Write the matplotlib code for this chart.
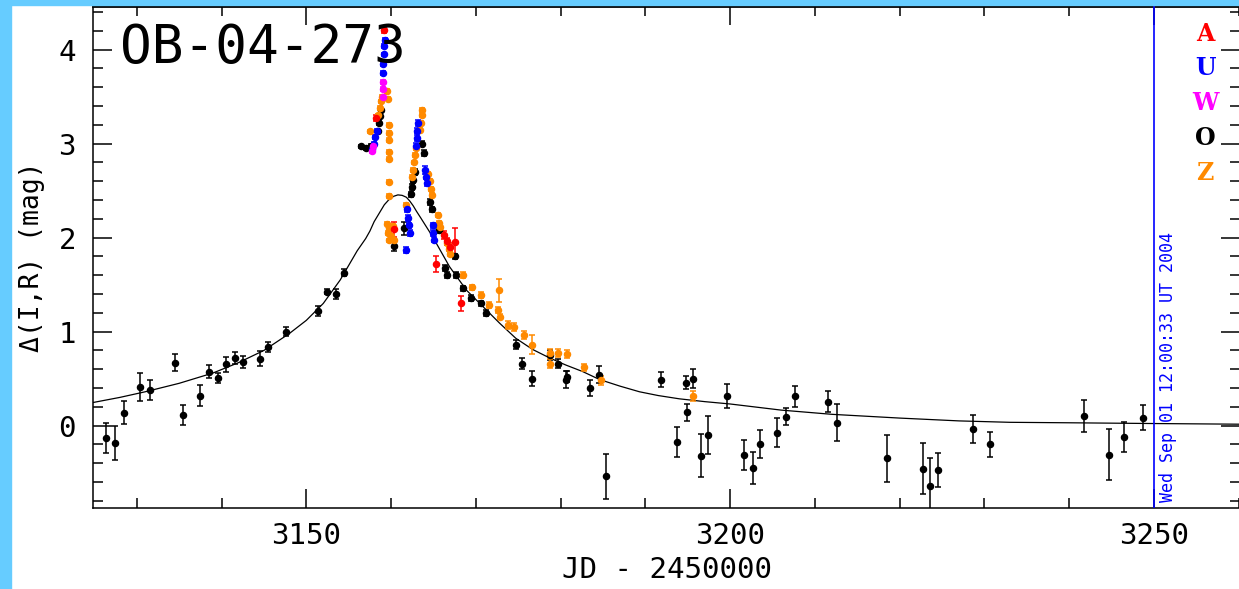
import matplotlib
matplotlib.use("Agg")
import matplotlib.pyplot as plt
from matplotlib.patches import Rectangle
from matplotlib.ticker import MultipleLocator

plt.rcParams['font.family'] = ['DejaVu Sans Mono', 'DejaVu Sans']

# model curve
model_t = [3124.8, 3128, 3131, 3135, 3139, 3142, 3145, 3148, 3150, 3152, 3154, 3156,
           3157, 3157.5, 3158, 3158.6, 3159.2, 3159.8, 3160.3, 3160.8, 3161.3, 3161.8,
           3162.2, 3162.6, 3163.0, 3163.5, 3164.2, 3164.9, 3165.9, 3166.9,
           3168.9, 3170.8, 3172.8, 3174.7, 3176.7, 3178.7, 3180.6, 3182.6, 3184.6,
           3187, 3189.3, 3191.5, 3194, 3197, 3200, 3206, 3212, 3220, 3227, 3233, 3240,
           3250, 3260]
model_mag = [0.245, 0.30, 0.36, 0.45, 0.56, 0.67, 0.80, 0.98, 1.12, 1.30, 1.55, 1.86,
             1.99, 2.07, 2.17, 2.26, 2.35, 2.41, 2.44, 2.455, 2.45, 2.43,
             2.39, 2.34, 2.28, 2.21, 2.11, 2.01, 1.85, 1.69,
             1.44, 1.27, 1.09, 0.93, 0.81, 0.72, 0.645, 0.575, 0.49,
             0.42, 0.36, 0.32, 0.285, 0.255, 0.23, 0.165, 0.12, 0.08, 0.05, 0.035, 0.03,
             0.022, 0.015]

# O (black)
o_t = [3126.4, 3127.4, 3128.5, 3130.4, 3131.6, 3134.5, 3135.5, 3137.5, 3138.5, 3139.6,
       3140.5, 3141.6, 3142.5, 3144.5, 3145.5, 3147.6, 3151.4, 3152.4, 3153.5, 3154.5,
       3156.4, 3157.0, 3157.6, 3158.5, 3158.6, 3158.7, 3158.8,
       3160.4, 3161.5, 3162.4, 3162.5, 3162.6, 3162.8, 3163.7, 3163.9, 3164.6, 3164.8,
       3165.7, 3166.4, 3166.6, 3167.5, 3167.6, 3168.5, 3169.4, 3170.6, 3171.2,
       3174.75, 3175.5, 3176.6, 3178.7, 3179.65, 3180.6, 3180.8, 3183.5, 3184.5,
       3185.35, 3191.8, 3193.7, 3194.8, 3194.85, 3195.6, 3196.5, 3197.4, 3199.6,
       3201.6, 3202.7, 3203.5, 3205.5, 3206.6, 3207.6, 3211.5, 3212.6, 3218.5,
       3222.7, 3223.6, 3224.5, 3228.6, 3230.6, 3241.7, 3244.7, 3246.5, 3248.7]
o_mag = [-0.134, -0.187, 0.138, 0.415, 0.38, 0.67, 0.114, 0.32, 0.574, 0.51,
         0.653, 0.72, 0.677, 0.713, 0.834, 1.0, 1.223, 1.426, 1.40, 1.628,
         2.97, 2.95, 2.975, 3.13, 3.22, 3.29, 3.36,
         1.91, 2.1, 2.46, 2.54, 2.61, 2.70, 3.0, 2.9, 2.38, 2.30,
         2.08, 1.68, 1.60, 1.80, 1.60, 1.46, 1.355, 1.30, 1.195,
         0.86, 0.66, 0.50, 0.75, 0.66, 0.49, 0.52, 0.40, 0.54,
         -0.54, 0.486, -0.177, 0.457, 0.14, 0.497, -0.32, -0.10, 0.316,
         -0.31, -0.45, -0.2, -0.074, 0.096, 0.31, 0.255, 0.032, -0.35,
         -0.46, -0.64, -0.47, -0.035, -0.2, 0.103, -0.31, -0.117, 0.085]
o_err = [0.16, 0.18, 0.125, 0.15, 0.11, 0.09, 0.11, 0.11, 0.07, 0.055,
         0.08, 0.065, 0.065, 0.08, 0.055, 0.045, 0.055, 0.03, 0.055, 0.035,
         0.02, 0.02, 0.02, 0.02, 0.02, 0.02, 0.02,
         0.05, 0.07, 0.03, 0.03, 0.03, 0.03, 0.03, 0.03, 0.03, 0.03,
         0.03, 0.03, 0.03, 0.03, 0.03, 0.03, 0.03, 0.03, 0.03,
         0.05, 0.06, 0.08, 0.05, 0.05, 0.09, 0.06, 0.09, 0.09,
         0.24, 0.08, 0.16, 0.07, 0.09, 0.1, 0.23, 0.2, 0.125,
         0.16, 0.17, 0.15, 0.15, 0.09, 0.115, 0.115, 0.195, 0.25,
         0.27, 0.3, 0.18, 0.15, 0.13, 0.17, 0.27, 0.16, 0.135]

# A (red)
a_t = [3158.25, 3159.2, 3160.4, 3166.3, 3166.6, 3166.9, 3167.5, 3165.3, 3168.3]
a_mag = [3.27, 4.21, 2.09, 2.03, 1.96, 1.90, 1.95, 1.72, 1.30]
a_err = [0.03, 0.03, 0.08, 0.04, 0.04, 0.04, 0.15, 0.09, 0.08]

# U (blue)
u_t = [3157.8, 3158.0, 3158.15, 3158.3, 3159.05, 3159.1, 3159.15, 3159.2, 3159.25,
       3161.8, 3161.9, 3162.0, 3162.1, 3162.2,
       3162.9, 3163.0, 3163.1, 3163.2, 3164.0, 3164.1, 3164.2,
       3164.9, 3165.0, 3165.1]
u_mag = [2.94, 3.0, 3.07, 3.14, 3.75, 3.85, 3.95, 4.04, 4.10,
         1.87, 2.30, 2.21, 2.13, 2.05,
         2.98, 3.06, 3.14, 3.22, 2.72, 2.65, 2.58,
         2.13, 2.05, 1.98]
u_err = [0.02, 0.02, 0.02, 0.02, 0.02, 0.02, 0.02, 0.02, 0.02,
         0.035, 0.03, 0.03, 0.03, 0.03,
         0.03, 0.03, 0.03, 0.03, 0.04, 0.03, 0.03,
         0.03, 0.03, 0.03]

# W (magenta)
w_t = [3157.75, 3157.85, 3159.0, 3159.05, 3159.1]
w_mag = [2.92, 2.97, 3.50, 3.58, 3.66]
w_err = [0.02, 0.02, 0.02, 0.02, 0.02]

# Z (orange)
z_t = [3157.5, 3158.5, 3158.65, 3158.8, 3158.9, 3159.5, 3159.6,
       3159.7, 3159.7, 3159.7, 3159.7, 3159.7, 3159.7, 3159.7,
       3159.5, 3159.6, 3159.7, 3159.8, 3160.0, 3160.2, 3160.3, 3161.8,
       3162.5, 3162.6, 3162.7, 3162.8, 3162.9,
       3163.4, 3163.5, 3163.6, 3163.7,
       3164.4, 3164.55, 3164.7, 3164.85,
       3165.5, 3165.7, 3165.8, 3166.6, 3166.8, 3167.0,
       3168.5, 3169.6, 3170.6, 3171.6, 3172.7, 3172.6, 3172.8, 3173.75, 3174.55,
       3175.7, 3176.6, 3178.7, 3178.7, 3179.65, 3180.8, 3182.8, 3184.8, 3195.6]
z_mag = [3.13, 3.30, 3.38, 3.45, 3.50, 3.56, 3.48,
         3.20, 3.11, 3.04, 2.91, 2.84, 2.59, 2.44,
         2.15, 2.05, 1.97, 2.10, 2.02, 2.12, 1.97, 2.35,
         2.65, 2.72, 2.80, 2.88, 2.95,
         3.15, 3.22, 3.30, 3.36,
         2.68, 2.60, 2.52, 2.45,
         2.24, 2.16, 2.11, 1.94, 1.88, 1.83,
         1.60, 1.47, 1.39, 1.28, 1.44, 1.23, 1.16, 1.07, 1.05,
         0.965, 0.86, 0.77, 0.66, 0.77, 0.76, 0.62, 0.48, 0.316]
z_err = [0.02] * 41 + [0.03, 0.03, 0.03, 0.03, 0.12, 0.03, 0.03, 0.04, 0.04,
                       0.04, 0.1, 0.04, 0.05, 0.04, 0.04, 0.04, 0.05, 0.05]

series = [
    (o_t, o_mag, o_err, 'black'),
    (z_t, z_mag, z_err, '#ff8a00'),
    (a_t, a_mag, a_err, '#ff0000'),
    (u_t, u_mag, u_err, '#0000ff'),
    (w_t, w_mag, w_err, '#ff00ff'),
]
legend_labels = ['A', 'U', 'W', 'O', 'Z']
legend_colors = ['#ff0000', '#0000ff', '#ff00ff', 'black', '#ff8a00']

W, H = 1239, 589
fig = plt.figure(figsize=(W / 100, H / 100), dpi=100)
fig.patch.set_facecolor('white')

# light blue frame strips
fig.patches.append(Rectangle((0, 0), 11 / W, 1, transform=fig.transFigure,
                             color='#66ccff', zorder=0))
fig.patches.append(Rectangle((0, 1 - 5 / H), 1, 5 / H, transform=fig.transFigure,
                             color='#66ccff', zorder=0))

left, right, bottom, top = 92.7, 1240.5, 508.3, 6.0
ax = fig.add_axes([left / W, (H - bottom) / H, (right - left) / W, (bottom - top) / H])

ax.plot(model_t, model_mag, color='black', lw=0.9, zorder=3)
for t, m, e, c in series:
    ax.errorbar(t, m, yerr=e, fmt='o', ms=4.4, color=c, ecolor=c,
                elinewidth=1.1, capsize=2.2, capthick=1.1, zorder=4)

ax.axvline(3250, color='#0000ff', lw=1.2, zorder=5)

ax.set_xlim(3124.8, 3260.2)
ax.set_ylim(-0.88, 4.465)
ax.xaxis.set_major_locator(MultipleLocator(50))
ax.xaxis.set_minor_locator(MultipleLocator(10))
ax.yaxis.set_major_locator(MultipleLocator(1))
ax.yaxis.set_minor_locator(MultipleLocator(0.2))
ax.tick_params(which='both', direction='in', top=True, right=True, width=1.1,
               labelsize=21, colors='black')
ax.tick_params(which='major', length=14)
ax.tick_params(which='minor', length=7.2)
ax.tick_params(axis='x', pad=10)
ax.tick_params(axis='y', pad=12)
for s in ax.spines.values():
    s.set_linewidth(1.1)
ax.spines['top'].set_linewidth(2.0)

ax.set_xlabel('JD - 2450000', fontsize=21, labelpad=4)
ax.set_ylabel('Δ(I,R) (mag)', fontsize=19, labelpad=10)

fig.text(120 / W, (H - 63.3) / H, 'OB-04-273', fontsize=38, va='baseline', ha='left')

for i, (lab, col) in enumerate(zip(legend_labels, legend_colors)):
    fig.text(1205 / W, (H - (33.7 + 34.7 * i)) / H, lab, color=col, fontsize=17,
             fontweight='bold', family='DejaVu Serif', ha='center', va='center')

fig.text(1168 / W, (H - 502) / H, 'Wed Sep 01 12:00:33 UT 2004', color='#0000ff',
         fontsize=12, rotation=90, ha='center', va='bottom')

fig.savefig('out.png', dpi=100, facecolor='white')
